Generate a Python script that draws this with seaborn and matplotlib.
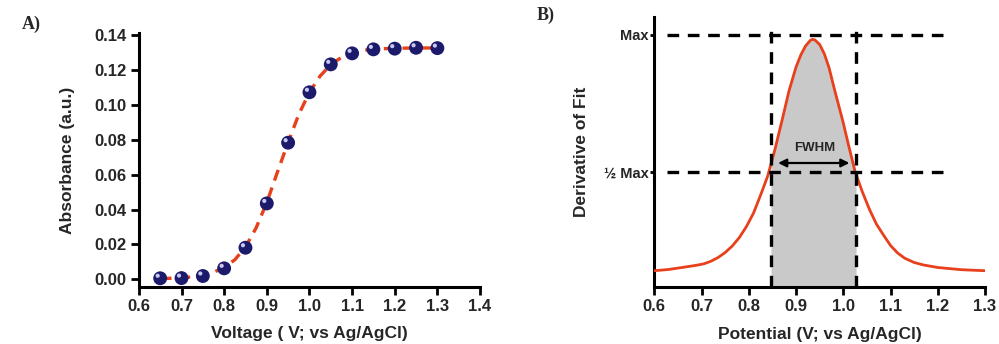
import numpy as np
import pandas as pd
import matplotlib
matplotlib.use("Agg")
import matplotlib.pyplot as plt
import matplotlib.transforms as mtransforms
import seaborn as sns

# ---------------- data ----------------
voltage = [0.65, 0.70, 0.75, 0.80, 0.85, 0.90, 0.95, 1.00, 1.05, 1.10, 1.15, 1.20, 1.25, 1.30]
absorbance = [0.0006, 0.0007, 0.0019, 0.0063, 0.0181, 0.0435, 0.0783, 0.1072, 0.1232,
              0.1295, 0.1318, 0.1322, 0.1327, 0.1325]

fit_x = [0.650, 0.675, 0.700, 0.725, 0.750, 0.775, 0.800, 0.825, 0.850, 0.875, 0.900,
         0.925, 0.950, 0.975, 1.000, 1.025, 1.050, 1.075, 1.100, 1.125, 1.150, 1.175,
         1.200, 1.225, 1.250, 1.275, 1.300]
fit_y = [0.0004, 0.0006, 0.0009, 0.0014, 0.0024, 0.0040, 0.0068, 0.0112, 0.0185, 0.0295,
         0.0440, 0.0615, 0.0785, 0.0945, 0.1072, 0.1165, 0.1230, 0.1272, 0.1297, 0.1312,
         0.1318, 0.1322, 0.1324, 0.1325, 0.1326, 0.1326, 0.1326]

deriv_x = [0.600, 0.630, 0.660, 0.690, 0.705, 0.720, 0.735, 0.750, 0.765, 0.780, 0.795,
           0.810, 0.825, 0.840, 0.855, 0.870, 0.885, 0.900, 0.910, 0.920, 0.930, 0.935,
           0.940, 0.950, 0.960, 0.970, 0.980, 0.990, 1.000, 1.010, 1.025, 1.040, 1.055,
           1.070, 1.085, 1.100, 1.115, 1.130, 1.150, 1.170, 1.200, 1.250, 1.300]
deriv_y = [16.3, 17.5, 19.6, 21.8, 23.2, 25.8, 29.5, 34.5, 41.0, 49.5, 60.5,
           74.0, 92.0, 111.0, 137.0, 166.0, 196.0, 220.0, 232.0, 241.0, 246.5, 247.7,
           247.0, 242.5, 233.0, 219.0, 200.0, 182.0, 164.0, 144.0, 115.3, 95.5, 78.0,
           63.0, 52.0, 41.5, 34.0, 28.8, 24.5, 22.0, 19.5, 17.3, 16.3]

half_left, half_right = 0.847, 1.027
max_level, half_level = 252, 115
ytick_labels_b = ["\u00bd Max", "Max"]
xticks_a = [0.6, 0.7, 0.8, 0.9, 1.0, 1.1, 1.2, 1.3, 1.4]
yticks_a = [0.00, 0.02, 0.04, 0.06, 0.08, 0.10, 0.12, 0.14]
xticks_b = [0.6, 0.7, 0.8, 0.9, 1.0, 1.1, 1.2, 1.3]

# ---------------- style ----------------
sns.set_style("ticks")
plt.rcParams['font.family'] = ['Liberation Sans', 'DejaVu Sans']
plt.rcParams['font.weight'] = 'bold'

RED = "#e8401c"
NAVY = "#1c1a6a"

fig = plt.figure(figsize=(9.99, 3.44), dpi=100)
axA = fig.add_axes([0.139, 0.1657, 0.3415, 0.7375])
axB = fig.add_axes([0.655, 0.1657, 0.331, 0.7849])

def style_axes(ax):
    for s in ["top", "right"]:
        ax.spines[s].set_visible(False)
    for s in ["left", "bottom"]:
        ax.spines[s].set_linewidth(2.2)
        ax.spines[s].set_color("black")
    ax.tick_params(axis="both", direction="out", width=2.0, length=6, labelsize=12,
                   color="black", pad=3)
    for lab in ax.get_xticklabels() + ax.get_yticklabels():
        lab.set_fontweight("bold")

# ---------------- Panel A ----------------
dfA = pd.DataFrame({"V": voltage, "A": absorbance})
dfF = pd.DataFrame({"V": fit_x, "A": fit_y})
sns.lineplot(data=dfF, x="V", y="A", ax=axA, color=RED, lw=2.4, zorder=2)
axA.lines[-1].set_dashes([3.4, 2.2])
sns.scatterplot(data=dfA, x="V", y="A", ax=axA, s=100, color=NAVY, edgecolor="none", zorder=3)
hl = mtransforms.offset_copy(axA.transData, fig=fig, x=-1.8, y=1.8, units="points")
axA.scatter(voltage, absorbance, s=9, color="#c8c8f0", edgecolor="none", zorder=4, transform=hl)

axA.set_xlim(0.6, 1.4)
axA.set_ylim(-0.0044, 0.141)
axA.set_xticks(xticks_a)
axA.set_xticklabels([f"{t:.1f}" for t in xticks_a])
axA.set_yticks(yticks_a)
axA.set_yticklabels([f"{t:.2f}" for t in yticks_a])
axA.set_xlabel("Voltage ( V; vs Ag/AgCl)", fontsize=12.5, fontweight="bold", labelpad=8)
axA.set_ylabel("Absorbance (a.u.)", fontsize=12.5, fontweight="bold", labelpad=14)
style_axes(axA)

# ---------------- Panel B ----------------
dfD = pd.DataFrame({"P": deriv_x, "D": deriv_y})
xs = np.array(deriv_x)
ys = np.array(deriv_y)
mask = (xs >= half_left) & (xs <= half_right)
fx = np.concatenate([[half_left], xs[mask], [half_right]])
fy = np.concatenate([[np.interp(half_left, xs, ys)], ys[mask], [np.interp(half_right, xs, ys)]])
axB.fill_between(fx, 0, fy, color="#c9c9c9", lw=0, zorder=1)
sns.lineplot(data=dfD, x="P", y="D", ax=axB, color=RED, lw=2.0, zorder=3)

dash = dict(color="black", lw=2.4, dashes=[3.5, 2.6], zorder=4)
axB.plot([0.626, 1.22], [max_level, max_level], **dash)
axB.plot([0.626, 1.22], [half_level, half_level], **dash)
axB.plot([half_left, half_left], [0, 264], **dash)
axB.plot([half_right, half_right], [0, 264], **dash)

axB.annotate("", xy=(0.862, 124), xytext=(1.013, 124),
             arrowprops=dict(arrowstyle="<|-|>", color="black", lw=1.6,
                             mutation_scale=12, shrinkA=0, shrinkB=0), zorder=5)
axB.text(0.94, 139, "FWHM", ha="center", va="center", fontsize=9.5, fontweight="bold", zorder=5)

axB.set_xlim(0.6, 1.3)
axB.set_ylim(0, 270)
axB.set_xticks(xticks_b)
axB.set_xticklabels([f"{t:.1f}" for t in xticks_b])
axB.set_yticks([half_level, max_level])
axB.set_yticklabels(ytick_labels_b)
axB.set_xlabel("Potential (V; vs Ag/AgCl)", fontsize=12.5, fontweight="bold", labelpad=9)
axB.set_ylabel("Derivative of Fit", fontsize=12.5, fontweight="bold", labelpad=11)
style_axes(axB)
axB.tick_params(axis="y", length=3, labelsize=10.5, pad=1)

# panel letters
fig.text(0.022, 0.93, "A)", fontsize=13, fontweight="bold",
         family=["Liberation Serif", "DejaVu Serif"], va="center")
fig.text(0.537, 0.955, "B)", fontsize=13, fontweight="bold",
         family=["Liberation Serif", "DejaVu Serif"], va="center")

fig.savefig("out.png", dpi=100)
